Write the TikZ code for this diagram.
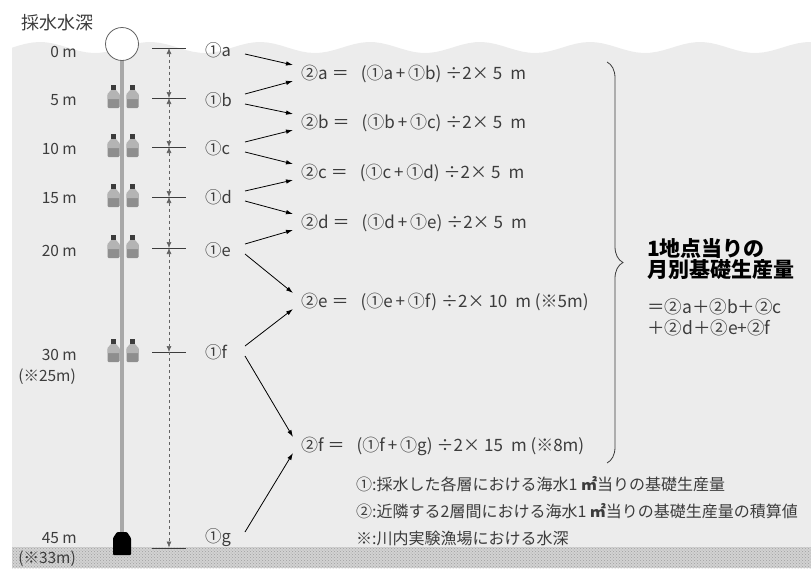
\documentclass[tikz,border=0pt]{standalone}
\usepackage{fontspec}
\setmainfont{Noto Sans CJK JP}
\usetikzlibrary{arrows.meta,decorations.pathreplacing,patterns}

\definecolor{sea}{HTML}{ECECEC}
\definecolor{ink}{HTML}{3C3C3C}
\definecolor{rope}{HTML}{A8A8A8}
\definecolor{glass}{HTML}{8E8E8E}
\definecolor{neck}{HTML}{B4B4B4}

% pair formula: layer, next layer, thickness
\newcommand\pairsum[3]{②#1\hspace{4pt}＝\hspace{12pt}(①#1\,+\,①#2)\hspace{4pt}÷2×\hspace{4pt}#3\hspace{8pt}m}

\tikzset{
  depth/.style={anchor=east, inner sep=0, text=ink, font=\fontsize{15.5}{15.5}\selectfont},
  layer/.style={anchor=west, inner sep=0, text=ink, font=\fontsize{16.5}{16.5}\selectfont},
  formula/.style={anchor=west, inner sep=0, text=ink, font=\fontsize{17}{17}\selectfont},
  note/.style={anchor=west, inner sep=0, text=ink, font=\fontsize{16}{16}\selectfont},
  tick/.style={draw=ink, line width=0.9pt},
  gap/.style={dashed, draw=ink!80, line width=0.6pt,
    {Latex[length=6pt,width=5pt]}-{Latex[length=6pt,width=5pt]}},
  feed/.style={draw=black, line width=0.8pt, -{Latex[length=7pt,width=4.5pt]}},
}

\begin{document}
\begin{tikzpicture}[x=1pt, y=-1pt]
\useasboundingbox (0,0) rectangle (811,568);
% Sea and sea bed
    \fill[sea] (12,568) -- plot[domain=12:811, samples=120]
        (\x, {47.5 - 5.5*cos((\x-590)/110*360)}) -- (811,568) -- cycle;
    \fill[gray!35] (12,547) rectangle (811,568);
    \fill[pattern=crosshatch dots, pattern color=gray!75] (12,547) rectangle (811,568);

% Title
    \node[anchor=west, inner sep=0, text=ink, font=\fontsize{18}{18}\selectfont]
        (title) at (21,23) {採水水深};

% Rope, buoy and weight
    \draw[rope, line width=3.6pt] (122,58) -- (122,534);
    \draw[ink!80, fill=white, line width=0.8pt] (122,44) circle (16.5);
    \fill[black, rounded corners=1pt] (113,555) -- (113,538) -- (117,532)
        -- (127,532) -- (131,538) -- (131,555) -- cycle;

% Bottles at each depth
    \foreach \y in {98,147,197,248,352} {
      \foreach \x in {113.5,132.5} {
        \fill[glass, rounded corners=1.2pt] (\x-6,\y-4) rectangle (\x+6,\y+10);
        \fill[neck] (\x-2.5,\y-8) -- (\x+2.5,\y-8) -- (\x+6,\y-4) -- (\x+6,\y+1)
            -- (\x-6,\y+1) -- (\x-6,\y-4) -- cycle;
        \fill[ink] (\x-2.2,\y-13) rectangle (\x+2.2,\y-8);
      }
    }

% Depth marks
    \foreach \n/\y in {0/48, 5/98, 10/147, 15/197, 20/248, 30/352, 45/548} {
      \draw[tick] (152,\y) -- (186,\y);
      \coordinate (t\n) at (169,\y);
    }
    \draw[gap] (t0) -- (t5);
    \draw[gap] (t5) -- (t10);
    \draw[gap] (t10) -- (t15);
    \draw[gap] (t15) -- (t20);
    \draw[gap] (t20) -- (t30);
    \draw[dashed, draw=ink!80, line width=0.6pt, -{Latex[length=6pt,width=5pt]}]
        (t30) -- ([yshift=0.5pt]t45);

% Depth labels
    \node[depth] (d0) at (77,52) {0 m};
    \node[depth] (d5) at (77,100) {5 m};
    \node[depth] (d10) at (77,149) {10 m};
    \node[depth] (d15) at (77,198) {15 m};
    \node[depth] (d20) at (77,251) {20 m};
    \node[depth] (d30) at (77,355) {30 m};
    \node[depth] (d30r) at (76,377) {(※25m)};
    \node[depth] (d45) at (77,538) {45 m};
    \node[depth] (d45r) at (76,559) {(※33m)};

% Layer values
    \node[layer] (La) at (205,50) {①a};
    \node[layer] (Lb) at (205,100) {①b};
    \node[layer] (Lc) at (205,148) {①c};
    \node[layer] (Ld) at (205,197) {①d};
    \node[layer] (Le) at (205,250) {①e};
    \node[layer] (Lf) at (205,352) {①f};
    \node[layer] (Lg) at (205,538) {①g};

% Integrated values
    \node[formula] (Fa) at (301,74) {\pairsum{a}{b}{5}};
    \node[formula] (Fb) at (301,123) {\pairsum{b}{c}{5}};
    \node[formula] (Fc) at (301,173) {\pairsum{c}{d}{5}};
    \node[formula] (Fd) at (301,223) {\pairsum{d}{e}{5}};
    \node[formula] (Fe) at (301,302) {\pairsum{e}{f}{10} (※5m)};
    \node[formula] (Ff) at (301,446) {\pairsum{f}{g}{15} (※8m)};

% Arrows from each layer to the pair it belongs to
    \foreach \up/\lo/\f in {a/b/a, b/c/b, c/d/c, d/e/d, e/f/e, f/g/f} {
      \draw[feed] ([shift={(40,4)}]L\up.west) -- ([shift={(-8,-9)}]F\f.west);
      \draw[feed] ([shift={(40,-6)}]L\lo.west) -- ([shift={(-8,7)}]F\f.west);
    }

% Brace and monthly total
    \coordinate (btop) at (607,62);
    \coordinate (bbot) at (607,463);
    \draw[ink, line width=0.8pt, decorate, decoration={brace, amplitude=16pt}]
        (btop) -- (bbot);
    \node[anchor=west, inner sep=0, text=black, align=left,
        font=\fontsize{21}{21}\selectfont\bfseries] (total) at (647,259)
        {1地点当りの\\月別基礎生産量};
    \node[anchor=north west, inner sep=0, text=ink, align=left,
        font=\fontsize{17.5}{21}\selectfont] (sum) at (647,298)
        {＝②a＋②b＋②c\\＋②d＋②e+②f};

% Notes
    \node[note] (n1) at (356,484) {①:採水した各層における海水1 \textbf{㎡}当りの基礎生産量};
    \node[note] (n2) at (356,511) {②:近隣する2層間における海水1 \textbf{㎡}当りの基礎生産量の積算値};
    \node[note] (n3) at (356,538) {※:川内実験漁場における水深};
\end{tikzpicture}
\end{document}
